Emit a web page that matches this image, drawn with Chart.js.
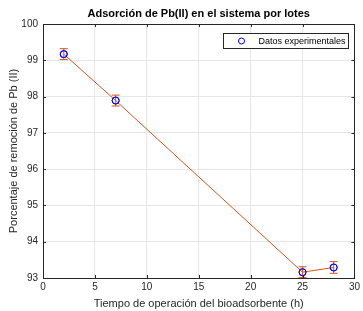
<!DOCTYPE html>
<html lang="es">
<head>
  <meta charset="UTF-8" />
  <title>Adsorción de Pb(II) en el sistema por lotes</title>
  <script src="https://cdn.jsdelivr.net/npm/chart.js"></script>
  <style>
    html, body { margin: 0; padding: 0; background: #fff; }
    .chart-container { width: 363px; height: 311px; }
  </style>
</head>
<body>
  <div class="chart-container">
    <canvas id="pbChart"></canvas>
  </div>

  <script>
    const hours = [2, 7, 25, 28];
    const removal = [99.17, 97.89, 93.16, 93.29];
    const errors = [0.15, 0.15, 0.15, 0.16];
    const xTicks = [0, 5, 10, 15, 20, 25, 30];
    const yTicks = [93, 94, 95, 96, 97, 98, 99, 100];
    const chartTitle = 'Adsorción de Pb(II) en el sistema por lotes';

    const ink = '#262626';
    const fontFamily = '"Liberation Sans", Arial, sans-serif';

    // title over the axes, error bars, inner ticks, box and legend
    const matlabLook = {
      id: 'matlabLook',
      afterDatasetsDraw(chart) {
        const { ctx, chartArea: a, scales: { x, y } } = chart;
        ctx.save();
        // title centred on the plot area
        ctx.fillStyle = '#000';
        ctx.font = 'bold 11px ' + fontFamily;
        ctx.textAlign = 'center';
        ctx.textBaseline = 'middle';
        ctx.fillText(chartTitle, (a.left + a.right) / 2, 14);
        ctx.textAlign = 'left';
        // error bars
        ctx.strokeStyle = '#D95319';
        ctx.lineWidth = 1;
        hours.forEach((h, i) => {
          const px = x.getPixelForValue(h);
          const top = y.getPixelForValue(removal[i] + errors[i]);
          const bot = y.getPixelForValue(removal[i] - errors[i]);
          ctx.beginPath();
          ctx.moveTo(px, top); ctx.lineTo(px, bot);
          ctx.moveTo(px - 4, top); ctx.lineTo(px + 4, top);
          ctx.moveTo(px - 4, bot); ctx.lineTo(px + 4, bot);
          ctx.stroke();
        });
        // markers again so they sit above the bars
        ctx.strokeStyle = '#0000FF';
        hours.forEach((h, i) => {
          ctx.beginPath();
          ctx.arc(x.getPixelForValue(h), y.getPixelForValue(removal[i]), 3.5, 0, Math.PI * 2);
          ctx.stroke();
        });
        // box
        ctx.strokeStyle = ink;
        ctx.lineWidth = 1;
        ctx.strokeRect(Math.round(a.left) + 0.5, Math.round(a.top) + 0.5,
          Math.round(a.right - a.left), Math.round(a.bottom - a.top));
        // inner ticks
        ctx.beginPath();
        xTicks.forEach(t => {
          const px = Math.round(x.getPixelForValue(t)) + 0.5;
          ctx.moveTo(px, a.bottom); ctx.lineTo(px, a.bottom - 3);
          ctx.moveTo(px, a.top); ctx.lineTo(px, a.top + 3);
        });
        yTicks.forEach(t => {
          const py = Math.round(y.getPixelForValue(t)) + 0.5;
          ctx.moveTo(a.left, py); ctx.lineTo(a.left + 3, py);
          ctx.moveTo(a.right, py); ctx.lineTo(a.right - 3, py);
        });
        ctx.stroke();
        // legend
        const label = chart.data.datasets[0].label;
        const lx = 223.5, ly = 33.5, lw = 125, lh = 15;
        ctx.fillStyle = '#fff';
        ctx.fillRect(lx, ly, lw, lh);
        ctx.strokeStyle = ink;
        ctx.strokeRect(lx, ly, lw, lh);
        ctx.strokeStyle = '#0000FF';
        ctx.beginPath();
        ctx.arc(lx + 18, ly + lh / 2, 3, 0, Math.PI * 2);
        ctx.stroke();
        ctx.fillStyle = '#000';
        ctx.font = '9px ' + fontFamily;
        ctx.textBaseline = 'middle';
        ctx.fillText(label, lx + 35, ly + lh / 2 + 0.5);
        ctx.restore();
      }
    };

    new Chart(document.getElementById('pbChart'), {
      type: 'line',
      data: {
        datasets: [{
          label: 'Datos experimentales',
          data: hours.map((h, i) => ({ x: h, y: removal[i] })),
          borderColor: '#D95319',
          borderWidth: 1,
          pointRadius: 3.5,
          pointBorderColor: '#0000FF',
          pointBackgroundColor: 'transparent',
          pointBorderWidth: 1,
          tension: 0
        }]
      },
      options: {
        responsive: true,
        maintainAspectRatio: false,
        animation: false,
        layout: { padding: { left: 0, right: 8, top: 24, bottom: 0 } },
        plugins: {
          legend: { display: false },
          tooltip: { enabled: false },
          title: { display: false }
        },
        scales: {
          x: {
            type: 'linear',
            min: 0,
            max: 30,
            afterBuildTicks: s => { s.ticks = xTicks.map(v => ({ value: v })); },
            afterFit: s => { s.height = 33; },
            ticks: { color: ink, font: { family: fontFamily, size: 10 }, padding: 3 },
            grid: { color: '#e6e6e6', drawTicks: false },
            border: { display: false },
            title: {
              display: true,
              text: 'Tiempo de operación del bioadsorbente (h)',
              color: ink,
              font: { family: fontFamily, size: 11 },
              padding: { top: 0, bottom: 0 }
            }
          },
          y: {
            min: 93,
            max: 100,
            afterBuildTicks: s => { s.ticks = yTicks.map(v => ({ value: v })); },
            afterFit: s => { s.width = 43; },
            ticks: { color: ink, font: { family: fontFamily, size: 10 }, padding: 5 },
            grid: { color: '#e6e6e6', drawTicks: false },
            border: { display: false },
            title: {
              display: true,
              text: 'Porcentaje de remoción de Pb (II)',
              color: ink,
              font: { family: fontFamily, size: 11 },
              padding: { top: 7, bottom: 0 }
            }
          }
        }
      },
      plugins: [matlabLook]
    });
  </script>
</body>
</html>
